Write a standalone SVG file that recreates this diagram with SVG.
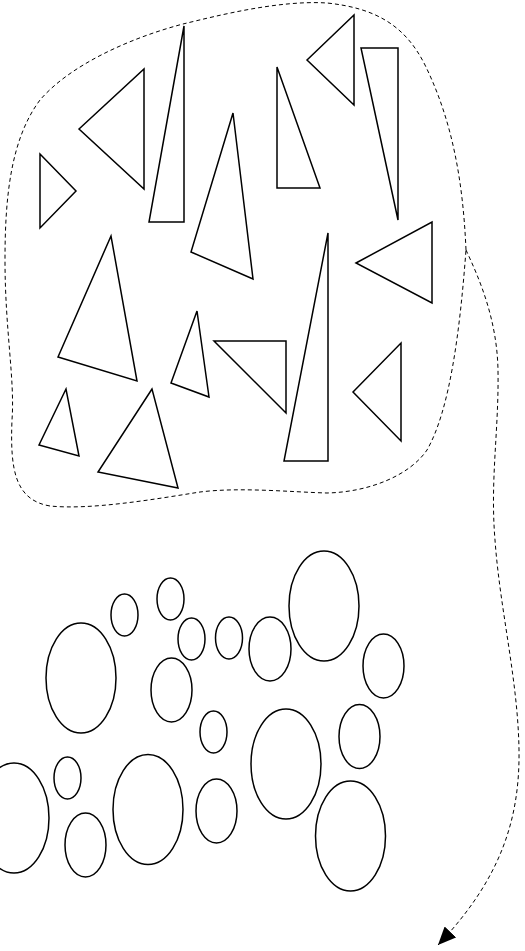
<svg xmlns="http://www.w3.org/2000/svg" width="525" height="951" viewBox="0 0 525 951">
<style>
.t{fill:none;stroke:#000;stroke-width:1.5;stroke-linejoin:miter}
.e{fill:none;stroke:#000;stroke-width:1.5}
.d{fill:none;stroke:#000;stroke-width:1;stroke-dasharray:4 3}
</style>
<defs>
<marker id="ah" markerUnits="userSpaceOnUse" markerWidth="20" markerHeight="16" viewBox="0 0 20 16" refX="18" refY="8" orient="auto">
<path d="M0,0 L18,8 L0,16 Z" fill="#000"/>
</marker>
</defs>
<rect width="525" height="951" fill="#fff"/>
<g id="region">
<path class="d" d="M466,250 C463,180 452,120 425,65 C405,25 375,8 327,3 C280,0 220,15 183,24 C130,38 70,65 40,100 C10,140 5,200 5,260 C5,330 15,380 12,420 C10,470 15,500 50,506 C90,510 150,500 200,492 C240,487 290,492 327,493 C370,492 410,475 427,450 C450,410 460,330 466,250 Z"/>
</g>
<g id="triangles">
<polygon id="tA" class="t" points="40,154 76,191 40,228"/>
<polygon id="tB" class="t" points="79,129 144,69 144,189"/>
<polygon id="tC" class="t" points="184,26 149,222 184,222"/>
<polygon id="tD" class="t" points="233,113 191,252 253,279"/>
<polygon id="tE" class="t" points="277,67 277,188 320,188"/>
<polygon id="tF" class="t" points="307,60 354,15 354,105"/>
<polygon id="tG" class="t" points="361,48 398,48 398,220"/>
<polygon id="tH" class="t" points="356,263 432,222 432,303"/>
<polygon id="tI" class="t" points="328,233 284,461 328,461"/>
<polygon id="tJ" class="t" points="214,341 286,341 286,413"/>
<polygon id="tK" class="t" points="353,392 401,343 401,441"/>
<polygon id="tL" class="t" points="111,236 58,357 137,381"/>
<polygon id="tM" class="t" points="197,311 171,383 209,397"/>
<polygon id="tN" class="t" points="66,389 39,445 79,456"/>
<polygon id="tO" class="t" points="152,389 98,472 178,488"/>
</g>
<g id="ellipses">
<ellipse id="e1" class="e" cx="81" cy="678" rx="35" ry="55"/>
<ellipse id="e2" class="e" cx="124.5" cy="615" rx="13.5" ry="21"/>
<ellipse id="e3" class="e" cx="170.5" cy="599" rx="13.5" ry="21"/>
<ellipse id="e4" class="e" cx="191.5" cy="639" rx="13.5" ry="21"/>
<ellipse id="e5" class="e" cx="229" cy="638" rx="13.5" ry="21"/>
<ellipse id="e6" class="e" cx="171.5" cy="690" rx="20.5" ry="32"/>
<ellipse id="e7" class="e" cx="270" cy="649" rx="21" ry="32"/>
<ellipse id="e8" class="e" cx="324" cy="606" rx="35" ry="55"/>
<ellipse id="e9" class="e" cx="383.5" cy="666" rx="20.5" ry="32"/>
<ellipse id="e10" class="e" cx="213.5" cy="732" rx="13.5" ry="21"/>
<ellipse id="e11" class="e" cx="14" cy="818" rx="35" ry="55"/>
<ellipse id="e12" class="e" cx="67.5" cy="778" rx="13.5" ry="21"/>
<ellipse id="e13" class="e" cx="85.5" cy="845" rx="20.5" ry="32"/>
<ellipse id="e14" class="e" cx="148" cy="809.5" rx="35" ry="55"/>
<ellipse id="e15" class="e" cx="216.5" cy="811" rx="20.5" ry="32"/>
<ellipse id="e16" class="e" cx="286" cy="764" rx="35" ry="55"/>
<ellipse id="e17" class="e" cx="359.5" cy="736.5" rx="20.5" ry="32"/>
<ellipse id="e18" class="e" cx="350.5" cy="836" rx="35" ry="55"/>
</g>
<g id="connectors">
<path class="d" marker-end="url(#ah)" d="M466,250 C480,280 497,320 498,370 C499,430 490,480 495,540 C500,610 518,680 519,750 C520,820 500,880 438,945"/>
</g>
</svg>
